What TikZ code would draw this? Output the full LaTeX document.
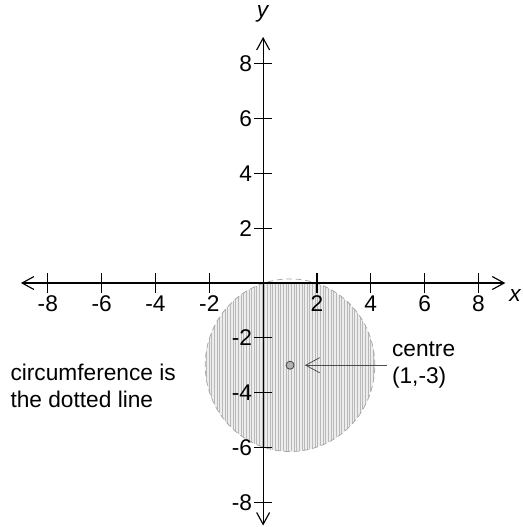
\documentclass[tikz,border=0pt]{standalone}
\usepackage{fontspec}
\setmainfont{Liberation Sans}
\usetikzlibrary{arrows.meta,patterns.meta}

\begin{document}
\begin{tikzpicture}[x=0.5cm, y=0.509cm, font=\fontsize{12}{14}\selectfont,
    axis/.style={line width=0.6pt, {Straight Barb[length=2.2mm,width=2.4mm]}-{Straight Barb[length=2.2mm,width=2.4mm]}},
    tickmark/.style={line width=0.6pt},
    ticklbl/.style={inner sep=1pt}]

    \useasboundingbox (-9.777,-8.905) rectangle (9.628,10.33);

    % Shaded disc
    \begin{scope}
        \clip (-5,-7) rectangle (6,0);
        \fill[gray!14] (1,-3) circle (3.15);
        \fill[pattern={Lines[angle=90, distance=1.4pt, line width=0.45pt]}, pattern color=gray!55] (1,-3) circle (3.15);
    \end{scope}
    \draw[gray!70, dash pattern=on 3pt off 2pt] (1,-3) circle (3.15);

    % Axes
    \draw[axis] (-9,0) -- (9,0);
    \draw[axis] (0,-8.85) -- (0,8.98);
    \node (xlbl) at (9.37,-0.47) {\textit{x}};
    \node (ylbl) at (0,9.82) {\textit{y}};

    % Ticks
    \foreach \t [count=\i] in {-8,-6,-4,-2,2,4,6,8} {
        \draw[tickmark] (\t,-0.37) -- (\t,0.37);
        \node[ticklbl, below] (xt\i) at (\t,-0.37) {\t};
        \draw[tickmark] (-0.33,\t) -- (0.33,\t);
        \node[ticklbl, left] (yt\i) at (-0.33,\t) {\t};
    }

    % Centre
    \node[circle, draw=black!75, fill=gray!60, minimum size=1.5mm, inner sep=0pt] (ctr) at (1,-3) {};
    \node[right, align=left, inner sep=2.5pt] (ctrlbl) at (4.6,-3) {centre\\(1,-3)};
    \draw[black!70, -{Straight Barb[length=2.6mm,width=2.8mm]}, shorten >=5.5pt] (ctrlbl.west) -- (ctr);

    % Note
    \node[right, align=left, inner sep=0pt] (note) at (-9.4,-3.76) {circumference is\\the dotted line};

\end{tikzpicture}
\end{document}
